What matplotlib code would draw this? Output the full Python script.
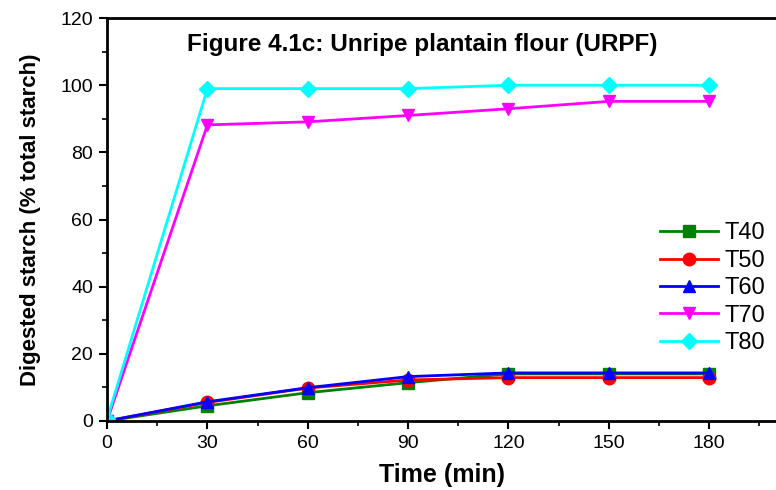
import matplotlib.pyplot as plt
from matplotlib.ticker import MultipleLocator

plt.rcParams['font.family'] = ['Liberation Sans', 'DejaVu Sans']

# digestion time points (min) and digested starch (% total starch)
time_min = [0, 30, 60, 90, 120, 150, 180]
t40 = [0, 4.5, 8.4, 11.4, 14.0, 14.0, 14.0]
t50 = [0, 5.5, 9.8, 12.2, 12.9, 12.9, 12.9]
t60 = [0, 5.7, 9.9, 13.2, 14.3, 14.3, 14.3]
t70 = [0, 88.2, 89.1, 91.0, 93.0, 95.2, 95.2]
t80 = [0.5, 99.0, 99.0, 99.0, 100.0, 100.0, 100.0]

series = [
    ('T40', t40, '#008000', 's'),
    ('T50', t50, '#ff0000', 'o'),
    ('T60', t60, '#0000ff', '^'),
    ('T70', t70, '#ff00ff', 'v'),
    ('T80', t80, '#00ffff', 'D'),
]

fig = plt.figure(figsize=(7.76, 4.9), dpi=100)
ax = fig.add_axes([0.138, 0.141, 0.862, 0.822])

for name, vals, col, mk in series:
    ax.plot(time_min, vals, color=col, marker=mk, markersize=9 if mk != 'D' else 8,
            linewidth=2, label=name)

ax.set_xlim(0, 200)
ax.set_ylim(0, 120)
ax.xaxis.set_minor_locator(MultipleLocator(15))
ax.yaxis.set_major_locator(MultipleLocator(20))
ax.yaxis.set_minor_locator(MultipleLocator(10))
ax.set_xticks(time_min)

for s in ax.spines.values():
    s.set_linewidth(2)
ax.spines['right'].set_visible(False)
ax.tick_params(which='major', direction='out', length=6, width=1.5, labelsize=14, pad=4)
ax.tick_params(which='minor', direction='out', length=3.5, width=1.2)

ax.set_xlabel('Time (min)', fontsize=18, fontweight='bold', labelpad=8)
ax.set_ylabel('Digested starch (% total starch)', fontsize=16, fontweight='bold', labelpad=14)

ax.text(0.471, 0.935, 'Figure 4.1c: Unripe plantain flour (URPF)', transform=ax.transAxes,
        ha='center', va='center', fontsize=17.5, fontweight='bold')

ax.legend(loc='upper left', bbox_to_anchor=(0.8266, 0.493), frameon=False, fontsize=17,
          handlelength=2.45, handletextpad=0.3, labelspacing=0.23,
          borderpad=0, borderaxespad=0)

fig.savefig('out.png', dpi=100)
